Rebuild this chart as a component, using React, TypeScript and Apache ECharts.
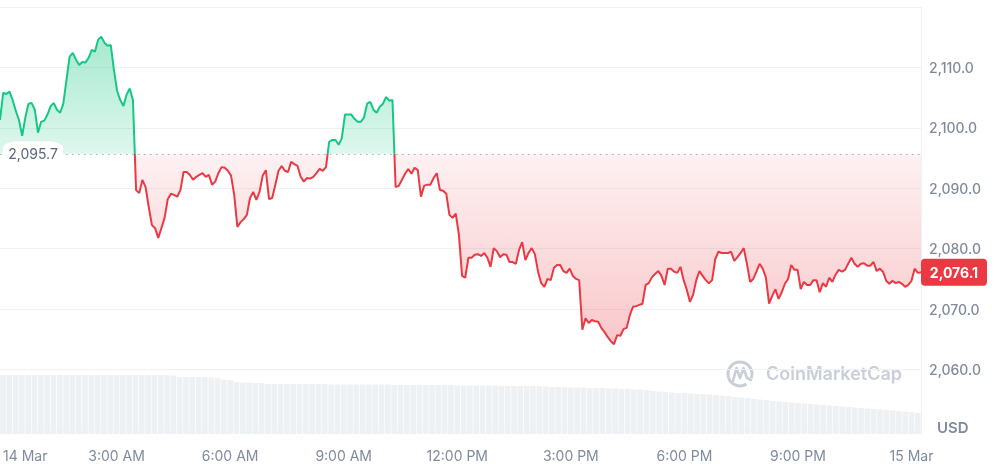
import React, { useEffect, useRef } from "react";
import * as echarts from "echarts";

// ---- data ----
const BASE_PRICE = 2095.7;
const PRICE_STEP_HOURS = 1 / 12; // 5-minute points
const VOLUME_STEP_HOURS = 1 / 6; // 10-minute bars
const X_MAX_HOURS = 24.25;
const X_TICK_LABELS = ["14 Mar", "3:00 AM", "6:00 AM", "9:00 AM", "12:00 PM", "3:00 PM", "6:00 PM", "9:00 PM", "15 Mar"];
const Y_TICK_LABELS = [2060, 2070, 2080, 2090, 2100, 2110];

const PRICES = [
  2101.3, 2105.8, 2105.6, 2106.0, 2104.6, 2102.8, 2101.3, 2098.7, 2101.7, 2104.0,
  2104.1, 2103.0, 2099.2, 2101.0, 2101.2, 2102.2, 2103.6, 2104.1, 2103.0, 2102.5,
  2104.0, 2107.9, 2111.8, 2112.4, 2111.3, 2110.4, 2110.9, 2110.8, 2111.6, 2112.9,
  2112.6, 2114.6, 2115.1, 2114.1, 2113.6, 2113.7, 2109.6, 2106.1, 2104.6, 2103.6,
  2105.5, 2106.5, 2104.6, 2089.7, 2089.2, 2091.4, 2090.2, 2086.9, 2083.9, 2083.4,
  2081.8, 2083.4, 2085.1, 2088.2, 2089.1, 2088.9, 2088.6, 2089.7, 2092.7, 2092.7,
  2092.2, 2091.4, 2091.9, 2092.2, 2092.5, 2091.9, 2092.2, 2090.6, 2091.1, 2092.5,
  2093.5, 2093.4, 2092.9, 2092.1, 2088.9, 2083.6, 2084.4, 2084.9, 2085.6, 2088.4,
  2089.4, 2088.1, 2089.4, 2092.1, 2093.0, 2088.2, 2088.4, 2090.6, 2092.9, 2093.7,
  2092.9, 2092.7, 2094.4, 2094.0, 2093.7, 2091.9, 2091.1, 2091.7, 2091.6, 2091.9,
  2092.5, 2093.2, 2092.9, 2093.5, 2097.7, 2098.0, 2098.0, 2097.2, 2098.3, 2102.2,
  2102.2, 2102.2, 2101.5, 2101.0, 2101.0, 2101.7, 2104.0, 2104.3, 2103.0, 2102.5,
  2103.5, 2104.0, 2105.1, 2104.5, 2104.6, 2090.2, 2090.4, 2091.4, 2092.4, 2093.2,
  2092.4, 2093.4, 2093.0, 2088.6, 2090.4, 2090.6, 2090.6, 2091.7, 2092.5, 2089.7,
  2089.6, 2089.1, 2085.6, 2085.1, 2085.8, 2082.3, 2075.5, 2075.2, 2078.5, 2078.5,
  2079.0, 2079.1, 2078.8, 2079.3, 2078.5, 2077.0, 2080.1, 2079.6, 2078.6, 2079.1,
  2079.0, 2077.8, 2077.8, 2077.5, 2079.8, 2081.1, 2078.1, 2079.3, 2080.1, 2079.1,
  2076.2, 2074.3, 2073.7, 2075.0, 2074.8, 2076.8, 2077.3, 2077.3, 2076.3, 2076.0,
  2076.7, 2075.5, 2075.0, 2074.8, 2066.6, 2068.5, 2067.7, 2068.2, 2068.0, 2067.9,
  2066.9, 2066.2, 2065.4, 2064.7, 2064.2, 2065.7, 2065.6, 2066.7, 2066.9, 2069.0,
  2070.4, 2070.5, 2070.7, 2070.9, 2074.0, 2074.3, 2075.3, 2075.8, 2076.3, 2075.5,
  2074.0, 2076.7, 2076.7, 2076.2, 2076.0, 2077.0, 2074.8, 2073.2, 2071.2, 2072.4,
  2074.8, 2076.3, 2075.5, 2074.8, 2074.3, 2074.8, 2078.3, 2079.5, 2079.3, 2079.3,
  2079.3, 2079.5, 2078.0, 2078.6, 2079.3, 2080.1, 2077.5, 2074.5, 2075.0, 2076.2,
  2077.5, 2076.7, 2075.2, 2070.9, 2072.2, 2073.3, 2071.7, 2072.8, 2074.2, 2075.0,
  2077.3, 2076.5, 2076.5, 2073.3, 2074.5, 2074.0, 2074.0, 2074.8, 2074.8, 2072.8,
  2074.3, 2073.7, 2075.2, 2074.5, 2075.7, 2076.5, 2076.2, 2076.5, 2077.5, 2078.5,
  2077.5, 2077.0, 2077.5, 2077.6, 2077.2, 2077.2, 2077.8, 2076.3, 2076.7, 2076.2,
  2074.7, 2074.2, 2074.7, 2074.3, 2074.5, 2074.2, 2073.7, 2074.0, 2074.7, 2076.7,
  2076.0, 2076.1,
];

const VOLUMES = [
  59, 59, 59, 59, 59, 59, 59, 59, 59, 59,
  59, 59, 59, 59, 59, 59, 59, 59, 59, 59,
  59, 59, 59, 59, 59, 59, 59, 58.5,
  57, 57, 57, 57, 57, 56.5, 56,
  54.5, 54,
  52, 51.5, 51.5, 51, 51,
  50, 50, 50, 50, 50, 50, 50, 50, 50, 50,
  49.5, 49.5, 49.5, 49.5, 49.5, 49.5, 49.5, 49.5, 49.5, 49.5,
  49, 49, 49, 49, 49, 49, 49, 49, 49, 49,
  48.5, 48.5, 48.5, 48.5, 48.5, 48.5, 48.5,
  48, 48, 48, 48, 48, 48, 48,
  47.5, 47, 47, 47, 46.5, 46.5, 46.5, 46,
  46, 46, 45.5, 45.5, 45, 45, 44.5, 44.5, 44,
  43, 42.5, 42, 41.5, 41, 41, 40.5, 40, 40, 39.5, 39,
  38.5, 38, 37, 36.5, 36, 35, 34.5, 34, 33,
  32.5, 32, 31.5, 31, 30.5, 30, 29.5, 29, 28.5,
  28, 27.5, 27, 26.5, 26, 25.5, 25, 24.5,
  24, 23.5, 23, 22.5, 22, 21,
];

const GREEN = "#16c784";
const RED = "#ea3943";
const AXIS_GREY = "#808a9d";
const GRID_LINE = "#eff2f5";
const FONT = "Inter, 'Noto Sans', sans-serif";

const fmtPrice = (v: number) =>
  v.toLocaleString("en-US", { minimumFractionDigits: 1, maximumFractionDigits: 1 });

export default function App() {
  const ref = useRef<HTMLDivElement>(null);

  useEffect(() => {
    if (!ref.current) return;
    const chart = echarts.init(ref.current, undefined, { renderer: "svg" });

    const priceData = PRICES.map((v, i) => [i * PRICE_STEP_HOURS, v]);
    const volData = VOLUMES.map((v, i) => [i * VOLUME_STEP_HOURS, v]);
    const lastPrice = PRICES[PRICES.length - 1];
    const maxV = Math.max(...PRICES);
    const minV = Math.min(...PRICES);
    const f = (maxV - BASE_PRICE) / (maxV - minV);

    const areaGradient = {
      type: "linear",
      x: 0,
      y: 0,
      x2: 0,
      y2: 1,
      colorStops: [
        { offset: 0, color: "rgba(22,199,132,0.38)" },
        { offset: f, color: "rgba(22,199,132,0.14)" },
        { offset: f, color: "rgba(234,57,67,0.07)" },
        { offset: 1, color: "rgba(234,57,67,0.28)" },
      ],
    };

    const option: any = {
      animation: false,
      textStyle: { fontFamily: FONT },
      grid: [
        { left: 0, right: 79, top: 7, bottom: 34 },
        { left: 0, right: 79, top: 340, bottom: 30 },
      ],
      xAxis: [
        { type: "value", gridIndex: 0, min: 0, max: X_MAX_HOURS, show: false },
        {
          type: "value",
          gridIndex: 1,
          min: 0,
          max: X_MAX_HOURS,
          interval: 3,
          axisLine: { show: false },
          axisTick: { show: false },
          splitLine: { show: false },
          axisLabel: {
            margin: 14,
            color: AXIS_GREY,
            fontSize: 14,
            fontFamily: FONT,
            alignMinLabel: "left",
            formatter: (v: number) => {
              const k = Math.round(v / 3);
              return Math.abs(v - k * 3) < 1e-6 && k < X_TICK_LABELS.length ? X_TICK_LABELS[k] : "";
            },
          },
        },
      ],
      yAxis: [
        {
          type: "value",
          gridIndex: 0,
          position: "right",
          min: 2050,
          max: 2120,
          interval: 10,
          axisLine: { show: true, onZero: false, lineStyle: { color: GRID_LINE } },
          axisTick: { show: false },
          splitLine: { show: true, lineStyle: { color: GRID_LINE, width: 1 } },
          axisLabel: {
            margin: 8,
            color: AXIS_GREY,
            fontSize: 14,
            fontWeight: 500,
            fontFamily: FONT,
            formatter: (v: number) => (Y_TICK_LABELS.includes(v) ? fmtPrice(v) : ""),
          },
        },
        {
          type: "value",
          gridIndex: 1,
          position: "right",
          min: 0,
          max: 94,
          axisLine: { show: true, onZero: false, lineStyle: { color: GRID_LINE } },
          axisTick: { show: false },
          axisLabel: { show: false },
          splitLine: { show: false },
        },
      ],
      visualMap: {
        type: "piecewise",
        show: false,
        seriesIndex: 1,
        dimension: 1,
        pieces: [
          { gt: 2000, lte: BASE_PRICE, color: RED },
          { gt: BASE_PRICE, lte: 2200, color: GREEN },
        ],
      },
      series: [
        {
          type: "bar",
          xAxisIndex: 1,
          yAxisIndex: 1,
          data: volData,
          barWidth: 5.7,
          itemStyle: { color: "#eef1f4" },
          silent: true,
        },
        {
          id: "price",
          type: "line",
          xAxisIndex: 0,
          yAxisIndex: 0,
          data: priceData,
          showSymbol: false,
          symbol: "none",
          lineStyle: { width: 2 },
          areaStyle: { origin: BASE_PRICE, color: areaGradient, opacity: 1 },
          silent: true,
          z: 3,
          markLine: {
            silent: true,
            symbol: ["none", "none"],
            label: { show: false },
            lineStyle: { type: [1.5, 4.5], color: "#a3acbb", width: 1 },
            data: [{ yAxis: BASE_PRICE }],
          },
          markPoint: {
            silent: true,
            data: [
              {
                coord: [0, BASE_PRICE],
                symbol: "roundRect",
                symbolSize: [60, 25],
                symbolOffset: [33, 0],
                itemStyle: { color: "#ffffff" },
                label: {
                  show: true,
                  position: "inside",
                  formatter: fmtPrice(BASE_PRICE),
                  color: "#58667e",
                  fontSize: 14,
                  fontFamily: FONT,
                },
              },
              {
                coord: [X_MAX_HOURS, lastPrice],
                symbol: "path://M4 0H62A4 4 0 0 1 66 4V23A4 4 0 0 1 62 27H4A4 4 0 0 1 0 23V4A4 4 0 0 1 4 0Z",
                symbolSize: [66, 27],
                symbolOffset: [33, 0],
                itemStyle: { color: RED },
                label: {
                  show: true,
                  position: "inside",
                  formatter: fmtPrice(lastPrice),
                  color: "#ffffff",
                  fontSize: 14,
                  fontWeight: "bold",
                  fontFamily: FONT,
                },
              },
            ],
          },
        },
      ],
      graphic: [
        {
          type: "arc",
          silent: true,
          shape: { cx: 740, cy: 374, r: 12, startAngle: 1.0, endAngle: 0.35 + Math.PI * 2, clockwise: true },
          style: { stroke: "#c9ced8", lineWidth: 3, fill: "none" },
        },
        {
          type: "polyline",
          silent: true,
          shape: { points: [[733, 381], [736.5, 368], [740, 378], [743.5, 368], [747, 378], [751, 380]] },
          style: { stroke: "#c9ced8", lineWidth: 2.6, fill: "none", lineJoin: "round", lineCap: "round" },
        },
        {
          type: "text",
          silent: true,
          left: 766,
          top: 364,
          style: { text: "CoinMarketCap", fill: "#c9ced8", font: `600 18px ${FONT}` },
        },
        {
          type: "text",
          silent: true,
          left: 937,
          top: 420,
          style: { text: "USD", fill: AXIS_GREY, font: `600 15px ${FONT}` },
        },
      ],
    };

    chart.setOption(option);
    return () => chart.dispose();
  }, []);

  return <div ref={ref} style={{ position: "fixed", left: 0, top: 0, width: 1000, height: 464 }} />;
}
